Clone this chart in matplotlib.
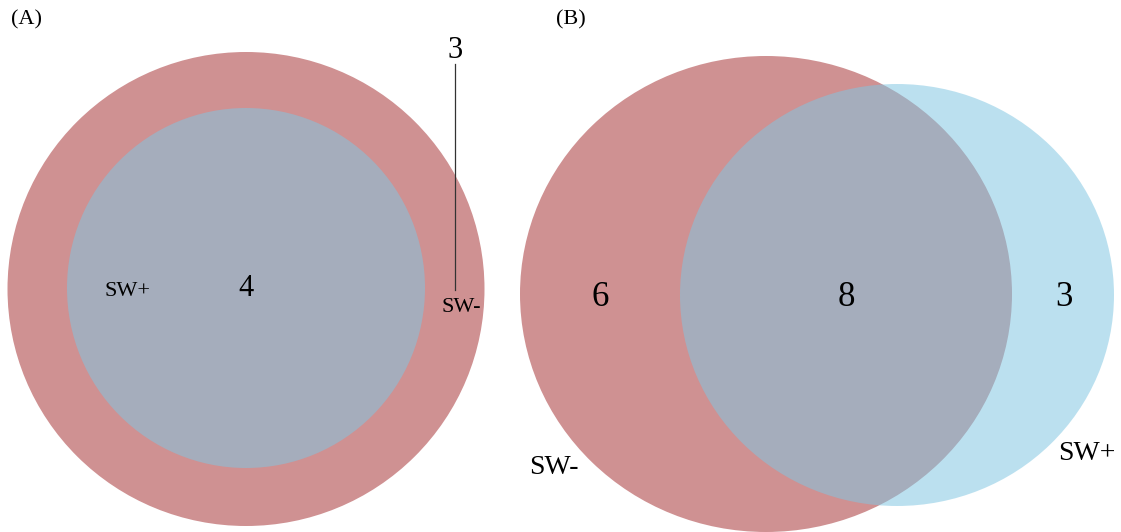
import matplotlib
matplotlib.use("Agg")
import matplotlib.pyplot as plt
from matplotlib.patches import Ellipse

plt.rcParams['font.family'] = ['Liberation Serif', 'DejaVu Serif']

# Venn counts
panels = ["(A)", "(B)"]
set_names = ["SW-", "SW+"]
# panel A: SW+ fully inside SW-
a_only_minus = 3
a_shared = 4
# panel B
b_only_minus = 6
b_shared = 8
b_only_plus = 3

red = "#cf9192"
blue = "#80c6e2"
alpha_top = 0.53

fig = plt.figure(figsize=(11.21, 5.32), dpi=100)
ax = fig.add_axes([0, 0, 1, 1])
ax.set_xlim(0, 1121)
ax.set_ylim(532, 0)
ax.axis("off")

# ---- panel A ----
ax.add_patch(Ellipse((246, 289), 477, 474, color=red, lw=0))
ax.add_patch(Ellipse((246, 288), 358, 360, color=blue, alpha=alpha_top, lw=0))
ax.text(11, 20, panels[0], fontsize=16, va="center", ha="left")
ax.text(246, 289, str(a_shared), fontsize=22, ha="center", va="center")
ax.text(128, 291, set_names[1], fontsize=16, ha="center", va="center")
ax.text(461, 307, set_names[0], fontsize=16, ha="center", va="center")
ax.text(455, 50, str(a_only_minus), fontsize=22, ha="center", va="center")
ax.plot([455, 455], [64, 290], color="#333333", lw=0.9)

# ---- panel B ----
ax.add_patch(Ellipse((766, 294), 492, 476, color=red, lw=0))
ax.add_patch(Ellipse((897, 295), 434, 422, color=blue, alpha=alpha_top, lw=0))
ax.text(556, 20, panels[1], fontsize=16, va="center", ha="left")
ax.text(600, 298, str(b_only_minus), fontsize=25, ha="center", va="center")
ax.text(846, 298, str(b_shared), fontsize=25, ha="center", va="center")
ax.text(1064, 298, str(b_only_plus), fontsize=25, ha="center", va="center")
ax.text(554, 467, set_names[0], fontsize=20, ha="center", va="center")
ax.text(1087, 454, set_names[1], fontsize=20, ha="center", va="center")

fig.savefig("out.png", dpi=100)
